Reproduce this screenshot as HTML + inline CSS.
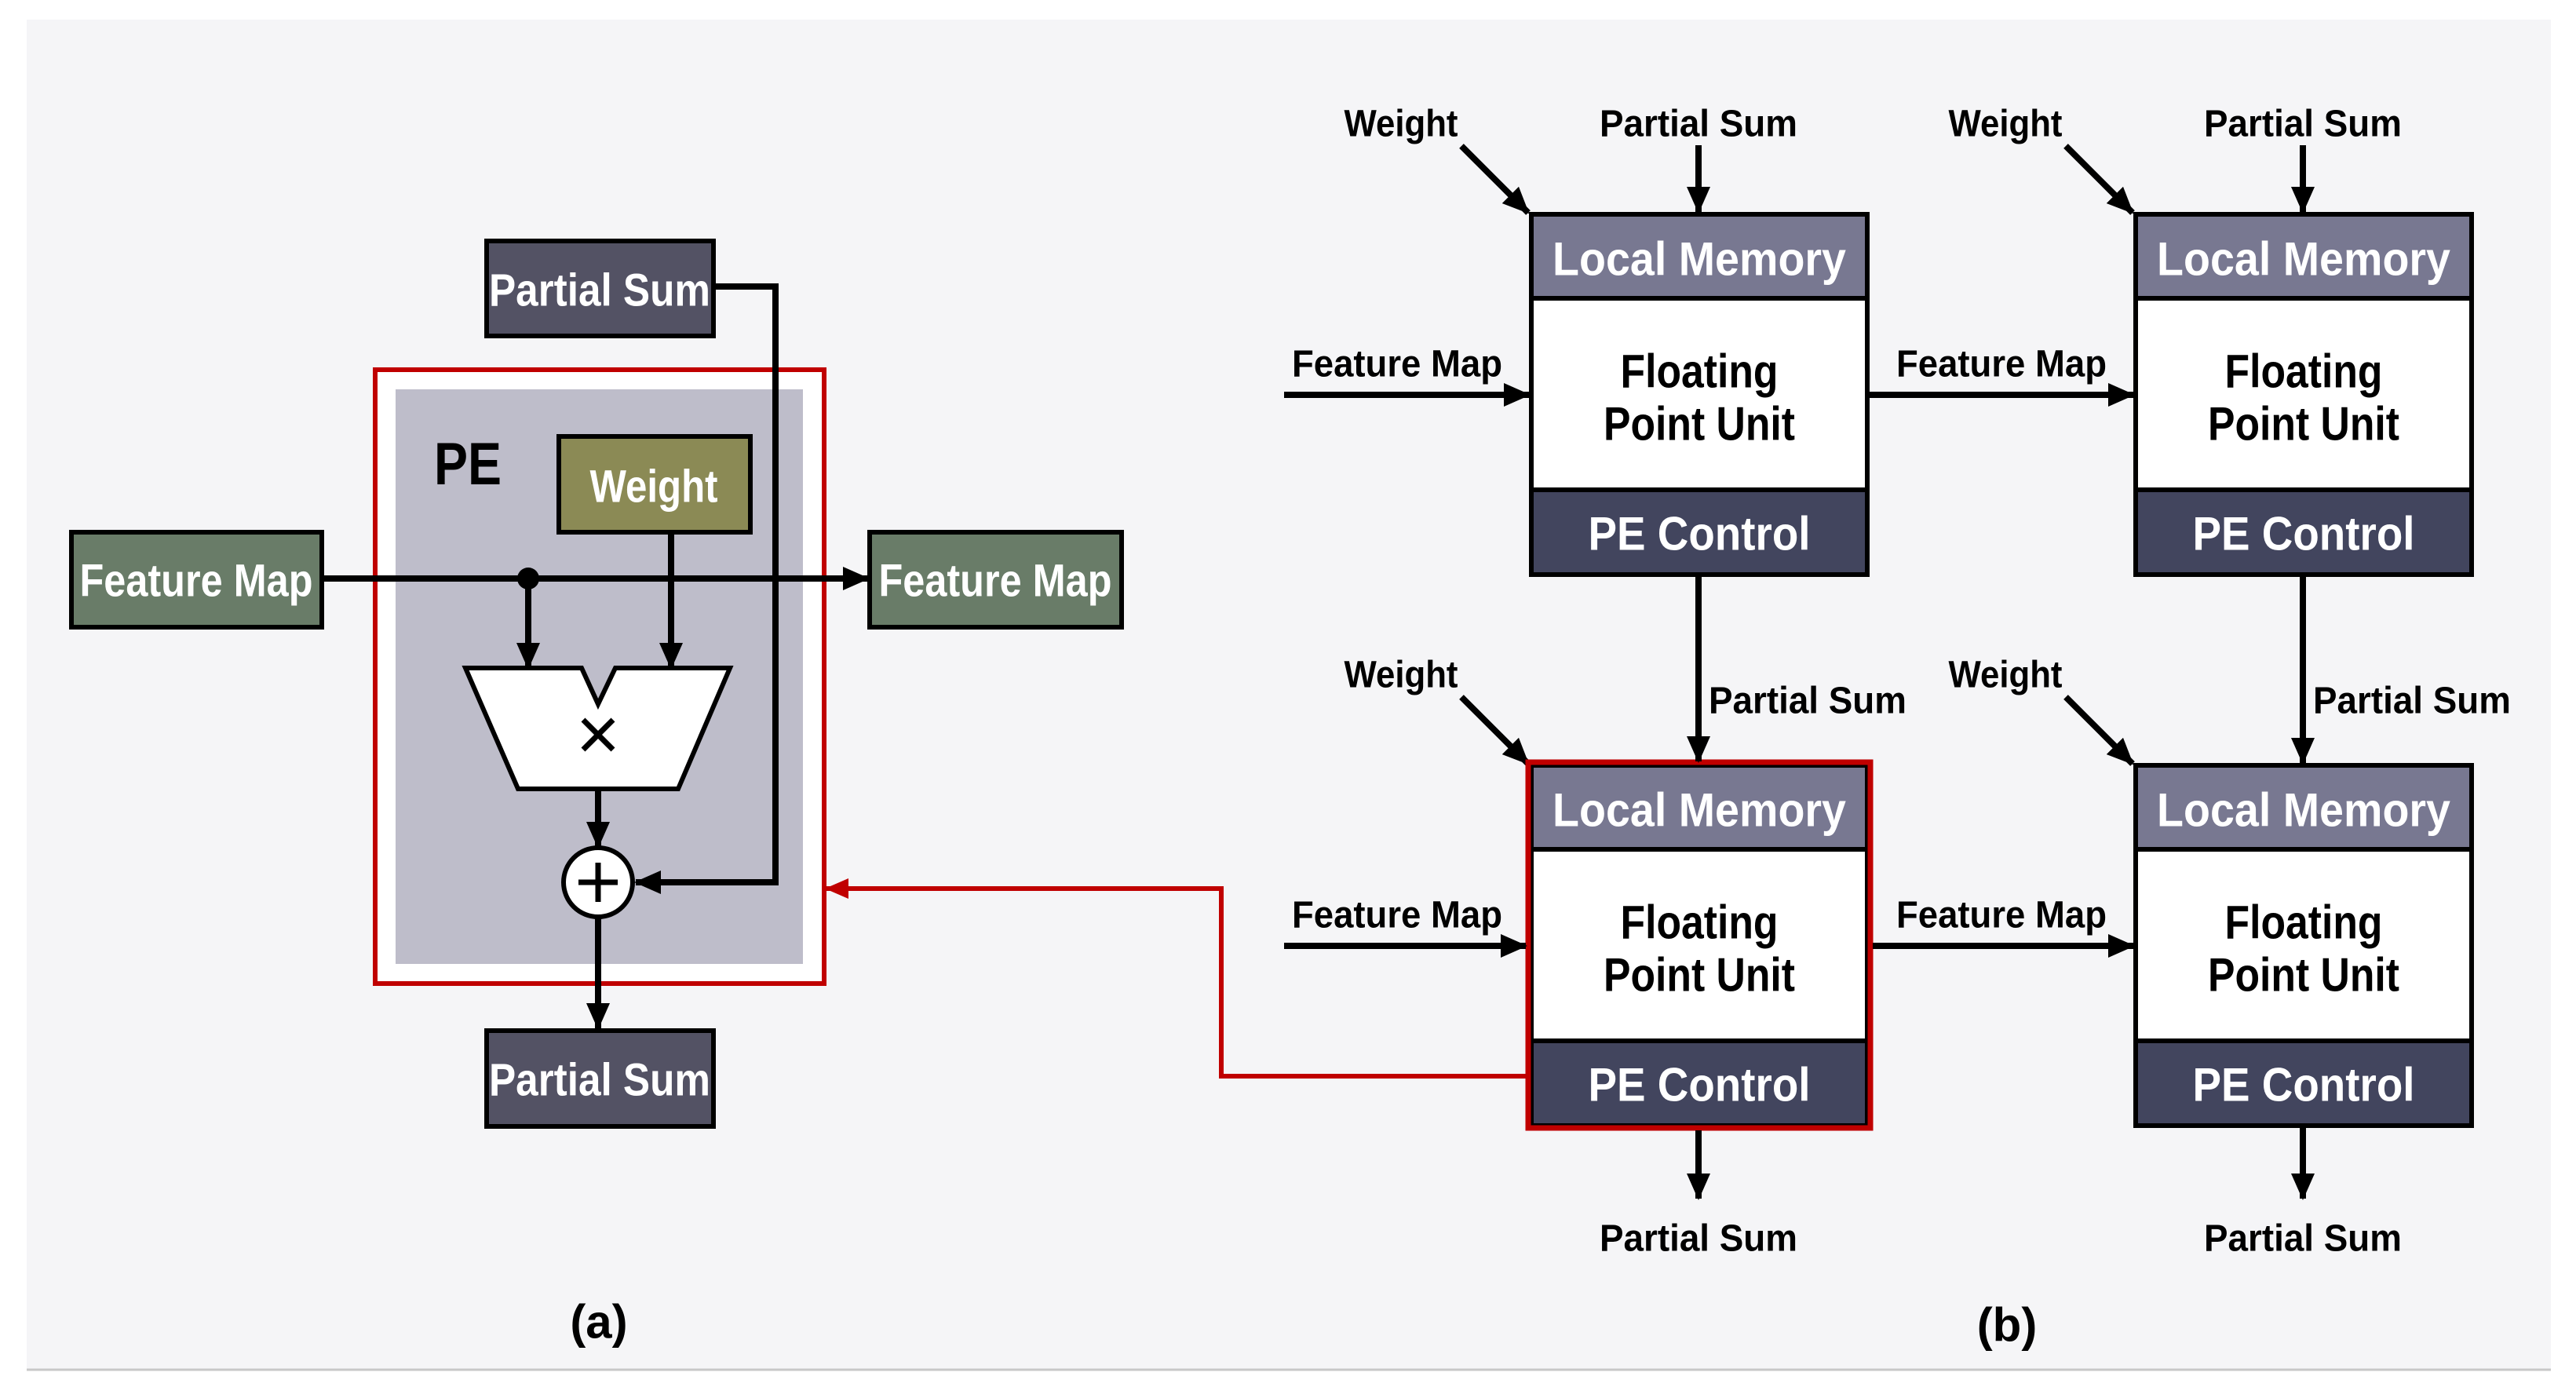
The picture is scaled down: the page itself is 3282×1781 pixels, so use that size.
<!DOCTYPE html>
<html><head><meta charset="utf-8"><style>
html,body{margin:0;padding:0;background:#fff;}
svg{display:block;}
text{font-family:"Liberation Sans",sans-serif;font-weight:bold;}
</style></head><body>
<svg width="3282" height="1781" viewBox="0 0 3282 1781" xmlns="http://www.w3.org/2000/svg">
<defs>
<marker id="ah" markerUnits="userSpaceOnUse" markerWidth="34" markerHeight="30" refX="32" refY="15" orient="auto"><path d="M0,0 L34,15 L0,30 Z" fill="#000"/></marker>
<marker id="ahr" markerUnits="userSpaceOnUse" markerWidth="30" markerHeight="26" refX="28" refY="13" orient="auto"><path d="M0,0 L30,13 L0,26 Z" fill="#c00000"/></marker>
</defs>
<rect x="0" y="0" width="3282" height="1781" fill="#fff"/>
<rect x="34" y="25" width="3216" height="1720" fill="#f5f5f7"/>
<line x1="34" y1="1745" x2="3250" y2="1745" stroke="#c8c8c8" stroke-width="3"/>

<!-- (a) -->
<rect x="478" y="471" width="572" height="782" fill="#fff" stroke="#c00000" stroke-width="6"/>
<rect x="504" y="496" width="519" height="732" fill="#bebdca"/>
<text x="553" y="617" font-size="76" textLength="86" lengthAdjust="spacingAndGlyphs">PE</text>

<rect x="620" y="307" width="289" height="121" fill="#535264" stroke="#000" stroke-width="6"/>
<text x="764" y="370" font-size="58" fill="#fff" text-anchor="middle" dominant-baseline="central" textLength="282" lengthAdjust="spacingAndGlyphs">Partial Sum</text>
<rect x="712" y="556" width="244" height="122" fill="#8b8a55" stroke="#000" stroke-width="6"/>
<text x="833" y="620" font-size="58" fill="#fff" text-anchor="middle" dominant-baseline="central" textLength="163" lengthAdjust="spacingAndGlyphs">Weight</text>
<rect x="91" y="678" width="319" height="121" fill="#697c68" stroke="#000" stroke-width="6"/>
<text x="250" y="740" font-size="58" fill="#fff" text-anchor="middle" dominant-baseline="central" textLength="297" lengthAdjust="spacingAndGlyphs">Feature Map</text>
<rect x="1108" y="678" width="321" height="121" fill="#697c68" stroke="#000" stroke-width="6"/>
<text x="1268" y="740" font-size="58" fill="#fff" text-anchor="middle" dominant-baseline="central" textLength="297" lengthAdjust="spacingAndGlyphs">Feature Map</text>
<rect x="620" y="1313" width="289" height="122" fill="#535264" stroke="#000" stroke-width="6"/>
<text x="764" y="1376" font-size="58" fill="#fff" text-anchor="middle" dominant-baseline="central" textLength="282" lengthAdjust="spacingAndGlyphs">Partial Sum</text>

<g stroke="#000" stroke-width="8" fill="none">
<line x1="410" y1="737" x2="1106" y2="737" marker-end="url(#ah)"/>
<line x1="673" y1="737" x2="673" y2="851" marker-end="url(#ah)"/>
<line x1="855" y1="678" x2="855" y2="851" marker-end="url(#ah)"/>
<line x1="762" y1="1005" x2="762" y2="1079" marker-end="url(#ah)"/>
<polyline points="909,365 988,365 988,1124 810,1124" marker-end="url(#ah)"/>
<line x1="762" y1="1169" x2="762" y2="1310" marker-end="url(#ah)"/>
</g>
<circle cx="673" cy="737" r="14" fill="#000"/>
<polygon points="593,851 741,851 762,897 784,851 930,851 864,1005 660,1005" fill="#fff" stroke="#000" stroke-width="6"/>
<g stroke="#000" stroke-width="7"><line x1="743" y1="917" x2="781" y2="955"/><line x1="781" y1="917" x2="743" y2="955"/></g>
<circle cx="762" cy="1124" r="44" fill="#fff" stroke="#000" stroke-width="6"/>
<g stroke="#000" stroke-width="7"><line x1="737" y1="1124" x2="787" y2="1124"/><line x1="762" y1="1099" x2="762" y2="1149"/></g>
<text x="763" y="1684" font-size="60" text-anchor="middle" dominant-baseline="central">(a)</text>

<!-- red connector -->
<polyline points="1946,1371 1556,1371 1556,1132 1053,1132" fill="none" stroke="#c00000" stroke-width="6" marker-end="url(#ahr)"/>

<!-- (b) -->
<g id="pe">
<rect x="1951" y="273" width="428" height="459" fill="#fff" stroke="#000" stroke-width="6"/>
<rect x="1954" y="276" width="422" height="104" fill="#787891"/>
<rect x="1954" y="624" width="422" height="105" fill="#42455e"/>
<line x1="1951" y1="380" x2="2379" y2="380" stroke="#000" stroke-width="6"/>
<line x1="1951" y1="624" x2="2379" y2="624" stroke="#000" stroke-width="6"/>
<text x="2165" y="330" font-size="60" fill="#fff" text-anchor="middle" dominant-baseline="central" textLength="374" lengthAdjust="spacingAndGlyphs">Local Memory</text>
<text x="2165" y="473" font-size="60" fill="#000" text-anchor="middle" dominant-baseline="central" textLength="201" lengthAdjust="spacingAndGlyphs">Floating</text>
<text x="2165" y="540" font-size="60" fill="#000" text-anchor="middle" dominant-baseline="central" textLength="244" lengthAdjust="spacingAndGlyphs">Point Unit</text>
<text x="2165" y="680" font-size="60" fill="#fff" text-anchor="middle" dominant-baseline="central" textLength="283" lengthAdjust="spacingAndGlyphs">PE Control</text>
<text x="1785" y="158" font-size="48" text-anchor="middle" dominant-baseline="central" textLength="145" lengthAdjust="spacingAndGlyphs">Weight</text>
<line x1="1862" y1="186" x2="1947" y2="271" stroke="#000" stroke-width="8" marker-end="url(#ah)"/>
<text x="1780" y="464" font-size="48" text-anchor="middle" dominant-baseline="central" textLength="268" lengthAdjust="spacingAndGlyphs">Feature Map</text>
</g>
<use href="#pe" x="770" y="0"/>
<use href="#pe" x="0" y="702"/>
<use href="#pe" x="770" y="702"/>
<rect x="1947" y="971" width="436" height="466" fill="none" stroke="#c00000" stroke-width="7"/>

<g stroke="#000" stroke-width="8">
<line x1="1636" y1="503" x2="1948" y2="503" marker-end="url(#ah)"/>
<line x1="2382" y1="503" x2="2718" y2="503" marker-end="url(#ah)"/>
<line x1="1636" y1="1205" x2="1944" y2="1205" marker-end="url(#ah)"/>
<line x1="2386" y1="1205" x2="2718" y2="1205" marker-end="url(#ah)"/>
</g>

<g font-size="48" text-anchor="middle" dominant-baseline="central">
<text x="2164" y="158" textLength="252" lengthAdjust="spacingAndGlyphs">Partial Sum</text>
<text x="2934" y="158" textLength="252" lengthAdjust="spacingAndGlyphs">Partial Sum</text>
<text x="2164" y="1578" textLength="252" lengthAdjust="spacingAndGlyphs">Partial Sum</text>
<text x="2934" y="1578" textLength="252" lengthAdjust="spacingAndGlyphs">Partial Sum</text>
</g>
<g font-size="48" dominant-baseline="central">
<text x="2177" y="893" textLength="252" lengthAdjust="spacingAndGlyphs">Partial Sum</text>
<text x="2947" y="893" textLength="252" lengthAdjust="spacingAndGlyphs">Partial Sum</text>
</g>
<g stroke="#000" stroke-width="8">
<line x1="2164" y1="185" x2="2164" y2="270" marker-end="url(#ah)"/>
<line x1="2934" y1="185" x2="2934" y2="270" marker-end="url(#ah)"/>
<line x1="2164" y1="732" x2="2164" y2="970" marker-end="url(#ah)"/>
<line x1="2934" y1="732" x2="2934" y2="972" marker-end="url(#ah)"/>
<line x1="2164" y1="1440" x2="2164" y2="1527" marker-end="url(#ah)"/>
<line x1="2934" y1="1436" x2="2934" y2="1527" marker-end="url(#ah)"/>
</g>
<text x="2557" y="1688" font-size="60" text-anchor="middle" dominant-baseline="central">(b)</text>
</svg>
</body></html>
